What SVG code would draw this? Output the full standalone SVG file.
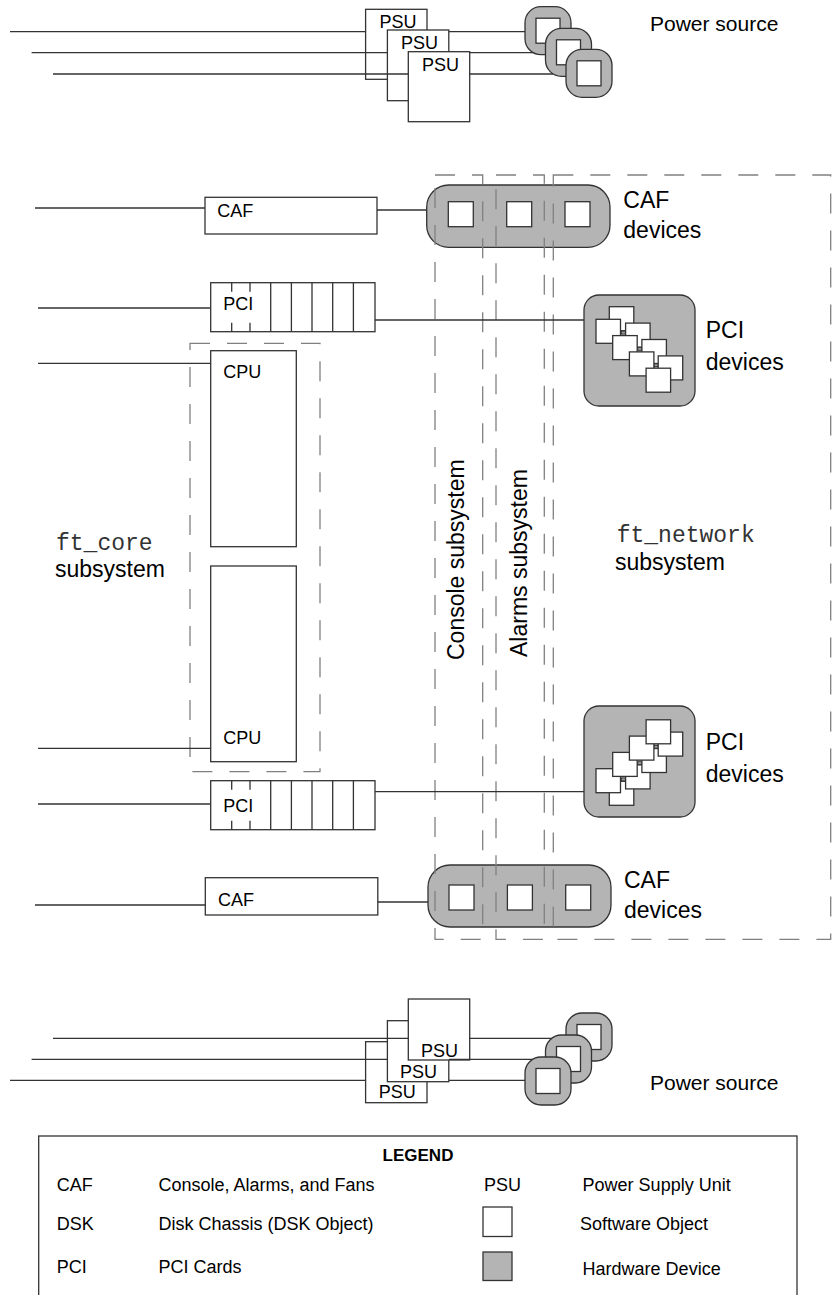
<svg xmlns="http://www.w3.org/2000/svg" width="838" height="1295" viewBox="0 0 838 1295">
<defs>
<style>
.ln{stroke:#333;stroke-width:1.3;fill:none}
.bx{fill:#fff;stroke:#333;stroke-width:1.3}
.hw{fill:#b4b4b4;stroke:#333;stroke-width:1.3}
.dv{stroke:#333;stroke-width:1.3;fill:none}
.ds{fill:none;stroke:#808080;stroke-width:1.3;stroke-dasharray:20 17}
.mk{fill:#999;stroke:#333;stroke-width:0.8}
text{font-family:"Liberation Sans",Arial,Helvetica,sans-serif;fill:#000}
.s{font-size:18px}
.b{font-size:23px}
.p{font-size:21px}
.m{font-family:"Liberation Mono","Courier New",monospace;font-size:23px;fill:#333}
.lg{font-size:17px;font-weight:bold}
</style>
<g id="pwr">
<rect class="hw" x="0" y="0" width="46" height="48" rx="16"/>
<rect class="bx" x="11" y="11.5" width="24" height="25"/>
</g>
<g id="pcicard">
<rect class="bx" x="0" y="0" width="164.3" height="49"/>
<path class="dv" d="M21,0V9M21,40V49M39.3,0V9M39.3,40V49M60,0V49M80.7,0V49M101.3,0V49M122,0V49M142.7,0V49"/>
</g>
<g id="pcisq">
<rect class="mk" x="621.5" y="331" width="4" height="3"/>
<rect class="mk" x="637.8" y="347.3" width="4" height="3"/>
<rect class="mk" x="654.1" y="363.6" width="4" height="3"/>
<rect class="bx" x="609.3" y="306.7" width="24.5" height="24"/>
<rect class="bx" x="596" y="319.3" width="24.5" height="24"/>
<rect class="bx" x="625.6" y="323.1" width="24.5" height="24"/>
<rect class="bx" x="612.7" y="335.6" width="24.5" height="24"/>
<rect class="bx" x="641.9" y="339.5" width="24.5" height="24"/>
<rect class="bx" x="629.4" y="351.9" width="24.5" height="24"/>
<rect class="bx" x="658.2" y="355.9" width="24.5" height="24"/>
<rect class="bx" x="646.1" y="368.2" width="24.5" height="24"/>
</g>
<g id="cafsq">
<rect class="bx" x="0" y="0" width="25" height="25"/>
<rect class="bx" x="58.4" y="0" width="25" height="25"/>
<rect class="bx" x="116.7" y="0" width="25" height="25"/>
</g>
</defs>

<!-- top power supplies -->
<g id="psu-top-1"><rect class="bx" x="365.6" y="9.3" width="61.4" height="70"/><text class="s" x="379.4" y="28.3">PSU</text></g>
<g id="psu-top-2"><rect class="bx" x="387.4" y="30" width="61.4" height="70.7"/><text class="s" x="401" y="49.3">PSU</text></g>
<g id="psu-top-3"><rect class="bx" x="408.3" y="51.7" width="61.4" height="70"/><text class="s" x="422" y="70.7">PSU</text></g>
<g id="power-top">
<use href="#pwr" x="525" y="6.7"/>
<use href="#pwr" x="545.5" y="28.3"/>
<use href="#pwr" x="566" y="49.3"/>
<text class="p" x="650" y="31">Power source</text>
</g>

<!-- CAF top -->
<g id="caf-top"><rect class="bx" x="205" y="197.3" width="172" height="36.7"/><text class="s" x="217.3" y="217.3">CAF</text></g>
<g id="caf-devices-top">
<rect class="hw" x="426.7" y="185" width="183.3" height="62.3" rx="22"/>
<use href="#cafsq" x="448.3" y="201.7"/>
<text class="b" x="623.3" y="208.3">CAF</text>
<text class="b" x="623.3" y="238.3">devices</text>
</g>

<!-- PCI top -->
<g id="pci-top"><use href="#pcicard" x="210.7" y="282.7"/><text class="s" x="223.3" y="310">PCI</text></g>
<g id="pci-devices-top">
<rect class="hw" x="584" y="295" width="111" height="111" rx="15"/>
<use href="#pcisq"/>
<text class="b" x="705.7" y="338.3">PCI</text>
<text class="b" x="705.7" y="370">devices</text>
</g>

<!-- ft_core -->
<g id="ft-core">
<rect class="ds" x="190" y="343.3" width="130" height="428.4"/>
<text class="m" x="56" y="550">ft_core</text>
<text class="b" x="55" y="577.3">subsystem</text>
</g>
<g id="cpu-1"><rect class="bx" x="210.7" y="350.7" width="85.6" height="196"/><text class="s" x="223.3" y="378.3">CPU</text></g>
<g id="cpu-2"><rect class="bx" x="210.7" y="566" width="85.6" height="195.7"/><text class="s" x="223.3" y="744">CPU</text></g>

<!-- PCI bottom -->
<g id="pci-bottom"><use href="#pcicard" x="210.7" y="780.7"/><text class="s" x="223.3" y="812.3">PCI</text></g>
<g id="pci-devices-bottom">
<rect class="hw" x="584" y="706" width="111" height="111" rx="15"/>
<use href="#pcisq" transform="matrix(1 0 0 -1 0 1112)"/>
<text class="b" x="705.7" y="750">PCI</text>
<text class="b" x="705.7" y="781.5">devices</text>
</g>

<!-- CAF bottom -->
<g id="caf-bottom"><rect class="bx" x="205.3" y="877.7" width="172.5" height="37.3"/><text class="s" x="218" y="905.5">CAF</text></g>
<g id="caf-devices-bottom">
<rect class="hw" x="428" y="865" width="183" height="62" rx="22"/>
<use href="#cafsq" x="449" y="885"/>
<text class="b" x="624" y="888.3">CAF</text>
<text class="b" x="624" y="918">devices</text>
</g>

<!-- subsystems -->
<g id="console-subsystem">
<rect class="ds" x="435" y="175" width="47.7" height="764.3"/>
<text class="b" transform="translate(464,660) rotate(-90)">Console subsystem</text>
</g>
<g id="alarms-subsystem">
<rect class="ds" x="496" y="175" width="48.3" height="764.3"/>
<text class="b" transform="translate(527,657) rotate(-90)">Alarms subsystem</text>
</g>
<g id="ft-network">
<rect class="ds" x="553.3" y="175" width="277.4" height="764.3"/>
<text class="m" x="616.7" y="541.7">ft_network</text>
<text class="b" x="615" y="570">subsystem</text>
</g>

<!-- bottom power supplies -->
<g id="psu-bot-1"><rect class="bx" x="365.6" y="1041.7" width="61.4" height="61"/><text class="s" x="378.7" y="1098.3">PSU</text></g>
<g id="psu-bot-2"><rect class="bx" x="387.4" y="1020.7" width="61.4" height="61"/><text class="s" x="400" y="1078.3">PSU</text></g>
<g id="psu-bot-3"><rect class="bx" x="408.3" y="999" width="61.4" height="61"/><text class="s" x="421" y="1056.7">PSU</text></g>
<g id="power-bottom">
<use href="#pwr" x="566" y="1013"/>
<use href="#pwr" x="545.5" y="1035"/>
<use href="#pwr" x="525" y="1057"/>
<text class="p" x="650" y="1090">Power source</text>
</g>

<!-- connectors -->
<g id="connectors" class="ln">
<path d="M10,31.7H365.6M449,31.7H525"/>
<path d="M31.6,52.7H387.4M469.7,52.7H533"/>
<path d="M53,74H408.3M469.7,74H553"/>
<path d="M35,208H205M377,210H426.7"/>
<path d="M38,308H210.7M375,320H584"/>
<path d="M38,363.3H210.7"/>
<path d="M38,748.3H210.7"/>
<path d="M38,804H210.7M375,791.7H584"/>
<path d="M35,905H205.3M377.8,902H428"/>
<path d="M53,1038.3H408.3M469.7,1038.3H552"/>
<path d="M31.6,1059.3H387.4M449,1059.3H533"/>
<path d="M10,1080.3H365.6M449,1080.3H525"/>
</g>

<!-- legend -->
<g id="legend">
<rect class="bx" x="38.7" y="1136" width="758.3" height="175"/>
<text class="lg" x="418" y="1160.7" text-anchor="middle">LEGEND</text>
<text class="s" x="56.7" y="1190.7">CAF</text>
<text class="s" x="158.5" y="1190.7">Console, Alarms, and Fans</text>
<text class="s" x="484" y="1190.7">PSU</text>
<text class="s" x="582.6" y="1190.7">Power Supply Unit</text>
<text class="s" x="56.7" y="1230">DSK</text>
<text class="s" x="158.5" y="1230">Disk Chassis (DSK Object)</text>
<rect class="bx" x="483" y="1207" width="29" height="29.5"/>
<text class="s" x="580" y="1230">Software Object</text>
<text class="s" x="56.7" y="1273.3">PCI</text>
<text class="s" x="158.5" y="1273.3">PCI Cards</text>
<rect class="hw" x="483" y="1252" width="29" height="28.5"/>
<text class="s" x="582.6" y="1275">Hardware Device</text>
</g>
</svg>
